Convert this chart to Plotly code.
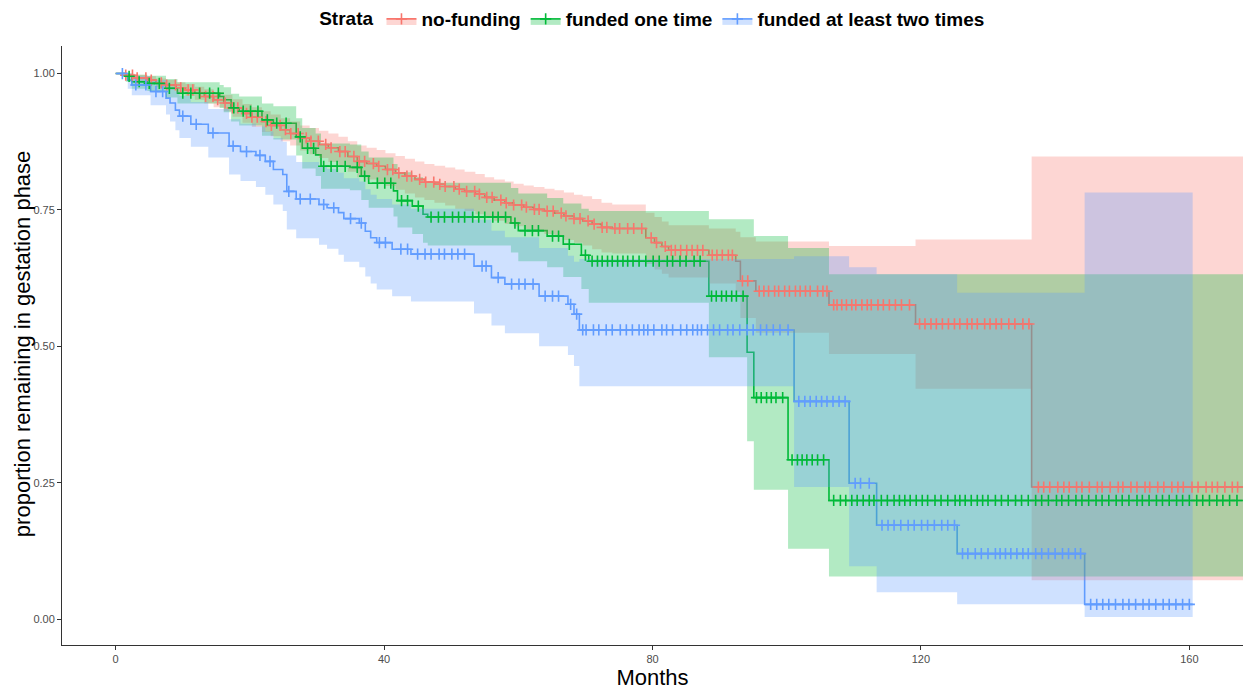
import numpy as np
import plotly.graph_objects as go

# ---------------- data ----------------
strata = ["no-funding", "funded one time", "funded at least two times"]
colors = ["#F8766D", "#00BA38", "#619CFF"]
fills = ["rgba(248,118,109,0.3)", "rgba(0,186,56,0.3)", "rgba(97,156,255,0.3)"]

# no-funding
red_t = [0, 1.5, 2.8, 4.7, 6.0, 7.5, 9.0, 10.4, 11.8, 13.2, 14.6, 16.1, 17.4, 18.9, 20.3, 21.8,
         23.1, 24.6, 26.0, 27.5, 28.9, 30.3, 31.7, 33.2, 34.6, 36.0, 37.4, 38.9, 40.2, 41.7, 43.1,
         44.6, 46.0, 47.5, 49.1, 50.6, 52.0, 53.6, 55.0, 56.4, 58.0, 59.3, 60.8, 62.3, 63.9, 65.4,
         66.8, 68.3, 69.6, 71.0, 72.4, 74.0, 79.0, 80.3, 81.4, 82.4, 88.4, 92.4, 93.1, 95.4, 106.3,
         119.2, 136.5]
red_s = [1.000, 0.997, 0.992, 0.988, 0.983, 0.979, 0.974, 0.970, 0.964, 0.958, 0.952, 0.946, 0.937,
         0.927, 0.920, 0.912, 0.905, 0.897, 0.890, 0.882, 0.876, 0.870, 0.864, 0.857, 0.848, 0.839,
         0.835, 0.830, 0.824, 0.818, 0.812, 0.806, 0.801, 0.797, 0.793, 0.788, 0.784, 0.779, 0.773,
         0.768, 0.763, 0.759, 0.755, 0.751, 0.748, 0.744, 0.739, 0.734, 0.730, 0.724, 0.718, 0.716,
         0.699, 0.690, 0.683, 0.676, 0.667, 0.656, 0.620, 0.601, 0.576, 0.541, 0.242]
red_lo = [1.000, 0.993, 0.986, 0.981, 0.975, 0.970, 0.964, 0.959, 0.952, 0.945, 0.938, 0.931, 0.921,
          0.910, 0.902, 0.893, 0.885, 0.876, 0.868, 0.859, 0.852, 0.845, 0.838, 0.830, 0.820, 0.810,
          0.806, 0.800, 0.794, 0.787, 0.780, 0.773, 0.768, 0.763, 0.758, 0.752, 0.748, 0.742, 0.736,
          0.730, 0.724, 0.720, 0.715, 0.710, 0.706, 0.701, 0.695, 0.690, 0.685, 0.678, 0.672, 0.670,
          0.651, 0.641, 0.633, 0.626, 0.615, 0.600, 0.552, 0.525, 0.486, 0.422, 0.071]
red_up = [1.000, 1.000, 0.998, 0.995, 0.991, 0.988, 0.984, 0.981, 0.976, 0.971, 0.966, 0.961, 0.953,
          0.944, 0.938, 0.931, 0.925, 0.918, 0.912, 0.905, 0.900, 0.895, 0.890, 0.884, 0.876, 0.868,
          0.864, 0.860, 0.854, 0.849, 0.844, 0.839, 0.834, 0.831, 0.828, 0.824, 0.820, 0.816, 0.810,
          0.806, 0.802, 0.798, 0.795, 0.792, 0.789, 0.786, 0.782, 0.778, 0.775, 0.770, 0.763, 0.760,
          0.745, 0.737, 0.729, 0.722, 0.716, 0.710, 0.700, 0.692, 0.684, 0.696, 0.848]
red_end = 172
red_cens = [1.5, 2.5, 3.2, 4.5, 5.3, 6.8, 7.6, 8.9, 9.7, 10.8, 11.5, 12.6, 13.4, 14.5, 15.2, 16.3,
            17.4, 18.2, 19.5, 20.3, 21.1, 22.4, 23.2, 24.5, 25.3, 26.1, 27.2, 28.4, 29.1, 30.2, 31.3,
            32.1, 33.4, 34.2, 35.5, 36.3, 37.1, 38.4, 39.2, 40.5, 41.3, 42.2, 43.4, 44.1, 45.3, 46.2,
            47.4, 48.3, 49.1, 50.4, 51.2, 52.3, 53.5, 54.2, 55.3, 56.1, 57.4, 58.2, 59.3, 60.5, 61.2,
            62.4, 63.1, 64.3, 65.2, 66.4, 67.1, 68.3, 69.2, 70.4, 71.3, 72.5, 73.2, 74.4, 75.1, 76.3,
            77.2, 78.4, 79.8, 80.6, 81.9, 82.8, 83.4, 84.2, 85.1, 85.9, 86.7, 87.5, 88.9, 89.6, 90.4,
            91.3, 91.9, 93.4, 94.2, 95.9, 96.6, 97.3, 98.2, 98.8, 99.7, 100.4, 101.3, 102.0, 102.8,
            103.5, 104.6, 105.4, 106.0, 107.0, 107.5, 108.2, 108.9, 109.7, 110.3, 111.2, 112.0, 112.6,
            113.6, 114.4, 115.3, 116.2, 117.1, 118.3, 119.8, 120.6, 121.5, 122.3, 123.2, 124.1, 125.0,
            125.8, 126.9, 127.6, 128.4, 129.5, 130.3, 131.2, 132.0, 133.1, 134.0, 135.2, 136.1, 137.5,
            138.3, 139.2, 140.4, 141.3, 142.1, 143.2, 144.0, 145.1, 146.3, 147.0, 148.2, 149.4, 150.1,
            151.3, 152.2, 153.4, 154.1, 155.3, 156.2, 157.4, 158.3, 159.1, 160.4, 161.3, 162.5, 163.4,
            164.2, 165.3, 166.4, 167.2]

# funded one time
green_t = [0, 1.5, 2.4, 4.7, 7.5, 9.2, 15.5, 16.1, 17.2, 18.4, 21.8, 23.5, 26.9, 27.8, 29.8, 30.6,
           34.9, 36.6, 37.7, 41.4, 42.0, 44.2, 45.8, 46.5, 58.9, 60.0, 64.3, 66.7, 69.4, 70.5, 88.4,
           94.1, 95.1, 100.2, 106.3]
green_s = [1.000, 0.995, 0.985, 0.982, 0.973, 0.964, 0.958, 0.952, 0.937, 0.931, 0.915, 0.909, 0.884,
           0.863, 0.851, 0.830, 0.828, 0.812, 0.799, 0.785, 0.767, 0.757, 0.742, 0.737, 0.726, 0.712,
           0.702, 0.687, 0.667, 0.656, 0.592, 0.489, 0.406, 0.292, 0.2175]
green_lo = [1.000, 0.985, 0.972, 0.968, 0.956, 0.945, 0.937, 0.929, 0.912, 0.905, 0.886, 0.879, 0.850,
            0.826, 0.812, 0.789, 0.786, 0.768, 0.754, 0.738, 0.718, 0.706, 0.690, 0.685, 0.672, 0.656,
            0.645, 0.627, 0.605, 0.580, 0.480, 0.326, 0.237, 0.129, 0.078]
green_up = [1.000, 1.000, 0.998, 0.996, 0.990, 0.984, 0.979, 0.975, 0.963, 0.958, 0.945, 0.940, 0.918,
            0.900, 0.890, 0.872, 0.870, 0.857, 0.846, 0.834, 0.819, 0.810, 0.800, 0.800, 0.790, 0.780,
            0.772, 0.762, 0.752, 0.748, 0.733, 0.733, 0.702, 0.680, 0.632]
green_end = 172
green_cens = [2.0, 3.5, 5.0, 6.5, 8.0, 10.0, 11.2, 12.5, 14.0, 15.3, 17.6, 19.0, 20.1, 21.2, 22.6,
              24.0, 25.4, 27.5, 28.6, 29.5, 31.0, 32.1, 33.0, 34.2, 36.0, 37.1, 39.0, 40.1, 41.0,
              42.6, 43.5, 45.1, 47.0, 48.1, 49.0, 50.2, 51.1, 52.0, 53.2, 54.1, 55.0, 56.2, 57.0,
              58.1, 59.5, 61.0, 62.1, 63.0, 65.1, 66.0, 67.6, 70.0, 71.0, 71.8, 72.5, 73.3, 74.0,
              74.8, 75.6, 76.3, 77.1, 78.0, 79.0, 80.1, 81.0, 82.2, 83.0, 84.1, 85.0, 86.2, 87.1,
              88.8, 89.5, 90.3, 91.0, 91.8, 92.5, 93.5, 95.5, 96.2, 97.0, 97.7, 98.4, 99.4, 100.8,
              101.6, 102.3, 103.0, 103.8, 104.6, 105.5, 107.0, 108.0, 108.8, 109.7, 110.5, 111.4,
              112.3, 113.0, 114.1, 115.0, 116.0, 116.8, 117.6, 118.4, 119.3, 120.2, 121.0, 122.1,
              123.0, 124.0, 125.1, 125.8, 126.6, 127.5, 128.4, 129.2, 130.0, 131.1, 132.0, 133.0,
              134.1, 135.0, 136.0, 137.1, 138.0, 139.0, 140.2, 141.0, 142.0, 143.1, 144.0, 145.0,
              146.1, 147.0, 148.0, 149.1, 150.0, 151.0, 152.2, 153.0, 154.0, 155.1, 156.0, 157.0,
              158.1, 159.0, 160.0, 161.1, 162.0, 163.0, 164.1, 165.0, 166.0, 167.1]

# funded at least two times
blue_t = [0, 1.8, 2.4, 5.2, 7.5, 8.1, 8.9, 9.5, 11.2, 13.8, 16.9, 18.6, 20.9, 22.3, 23.5, 24.9,
          25.5, 26.9, 30.3, 31.5, 33.2, 34.0, 36.3, 37.2, 38.0, 38.9, 41.2, 44.0, 53.4, 56.0, 58.0,
          63.1, 67.4, 68.3, 69.1, 101.1, 109.3, 113.4, 125.4, 144.4]
blue_s = [1.000, 0.988, 0.979, 0.967, 0.955, 0.946, 0.933, 0.922, 0.907, 0.891, 0.867, 0.857, 0.850,
          0.839, 0.824, 0.815, 0.784, 0.770, 0.760, 0.754, 0.745, 0.734, 0.726, 0.711, 0.699, 0.690,
          0.678, 0.669, 0.647, 0.626, 0.614, 0.592, 0.577, 0.559, 0.530, 0.399, 0.249, 0.172, 0.120,
          0.027]
blue_lo = [1.000, 0.972, 0.960, 0.942, 0.925, 0.912, 0.896, 0.882, 0.866, 0.846, 0.815, 0.803, 0.792,
           0.778, 0.760, 0.748, 0.714, 0.698, 0.686, 0.679, 0.668, 0.655, 0.645, 0.628, 0.615, 0.604,
           0.592, 0.582, 0.560, 0.538, 0.524, 0.500, 0.484, 0.464, 0.427, 0.242, 0.097, 0.049, 0.027,
           0.004]
blue_up = [1.000, 1.000, 0.995, 0.988, 0.982, 0.976, 0.967, 0.959, 0.948, 0.935, 0.916, 0.908, 0.903,
           0.894, 0.882, 0.875, 0.850, 0.838, 0.830, 0.825, 0.818, 0.808, 0.802, 0.788, 0.778, 0.770,
           0.760, 0.752, 0.732, 0.712, 0.700, 0.680, 0.666, 0.655, 0.660, 0.665, 0.645, 0.632, 0.598,
           0.782]
blue_end = 160.5
blue_cens = [1.0, 3.0, 4.5, 6.0, 7.0, 10.0, 12.0, 14.5, 17.5, 19.5, 21.5, 23.0, 25.8, 27.5, 29.0,
             31.0, 32.5, 35.0, 36.6, 39.3, 40.2, 42.5, 43.5, 45.0, 46.1, 47.0, 48.2, 49.0, 50.1,
             51.0, 52.0, 54.6, 55.2, 57.0, 59.0, 60.1, 61.0, 62.2, 64.0, 65.1, 66.0, 67.8, 68.7,
             69.6, 70.1, 71.2, 72.0, 73.1, 74.0, 75.2, 76.1, 77.0, 78.0, 78.7, 79.3, 80.2, 81.4,
             82.1, 83.0, 84.2, 85.1, 86.0, 86.7, 87.3, 88.2, 89.1, 90.0, 91.2, 92.0, 93.0, 94.1,
             95.0, 96.1, 97.0, 98.0, 99.0, 100.2, 101.8, 102.7, 103.5, 104.4, 105.2, 106.0, 106.9,
             107.8, 108.7, 110.2, 111.0, 112.3, 114.2, 115.1, 116.0, 117.0, 118.1, 119.0, 120.1,
             121.0, 122.0, 123.1, 124.0, 125.0, 126.2, 127.0, 128.1, 129.0, 130.0, 131.1, 131.8,
             132.6, 133.4, 134.3, 135.2, 136.0, 137.1, 138.0, 139.0, 140.0, 141.1, 142.0, 143.0,
             143.8, 145.3, 146.2, 147.1, 148.0, 149.0, 150.1, 151.0, 152.0, 153.1, 154.0, 155.0,
             156.1, 157.0, 158.0, 159.0, 160.0]

groups = [
    (red_t, red_s, red_lo, red_up, red_end, red_cens),
    (green_t, green_s, green_lo, green_up, green_end, green_cens),
    (blue_t, blue_s, blue_lo, blue_up, blue_end, blue_cens),
]

xticks = [0, 40, 80, 120, 160]
yticks = [0.0, 0.25, 0.50, 0.75, 1.00]
ytick_labels = ["0.00", "0.25", "0.50", "0.75", "1.00"]

FONT = "Liberation Sans, Arial, sans-serif"

fig = go.Figure()

# step lines (drawn first; ribbons sit on top like in the original)
for i, (t, s, lo, up, end, cens) in enumerate(groups):
    fig.add_trace(go.Scatter(x=list(t) + [end], y=list(s) + [s[-1]], mode="lines",
                             line=dict(color=colors[i], width=1.6, shape="hv"),
                             showlegend=False, hoverinfo="skip"))

# confidence ribbons
for i, (t, s, lo, up, end, cens) in enumerate(groups):
    fig.add_trace(go.Scatter(x=list(t) + [end], y=list(up) + [up[-1]], mode="lines",
                             line=dict(width=0, shape="hv"), showlegend=False, hoverinfo="skip"))
    fig.add_trace(go.Scatter(x=list(t) + [end], y=list(lo) + [lo[-1]], mode="lines",
                             line=dict(width=0, shape="hv"), fill="tonexty",
                             fillcolor=fills[i], showlegend=False, hoverinfo="skip"))

# censor marks
for i, (t, s, lo, up, end, cens) in enumerate(groups):
    tt = np.array(t)
    ss = np.array(s)
    idx = np.searchsorted(tt, np.array(cens), side="right") - 1
    fig.add_trace(go.Scatter(x=cens, y=ss[idx], mode="markers",
                             marker=dict(symbol="cross-thin", size=8, color=colors[i],
                                         line=dict(color=colors[i], width=1.6)),
                             showlegend=False, hoverinfo="skip"))

# legend entries
for i, name in enumerate(strata):
    fig.add_trace(go.Scatter(x=[None], y=[None], mode="lines+markers", name="<b>" + name + "</b>",
                             fill="toself", fillcolor=fills[i],
                             line=dict(color=colors[i], width=1.6),
                             marker=dict(symbol="cross-thin", size=8, color=colors[i],
                                         line=dict(color=colors[i], width=1.6))))

fig.update_layout(
    width=1243, height=691,
    paper_bgcolor="white", plot_bgcolor="white",
    margin=dict(l=62, r=0, t=44, b=46),
    font=dict(family=FONT, color="black"),
    legend=dict(orientation="h", x=0.501, xanchor="center", y=1.045, yanchor="middle",
                traceorder="normal",
                title=dict(text="<b>Strata</b>", font=dict(size=19, family=FONT)),
                font=dict(size=19, family=FONT), itemwidth=30, tracegroupgap=0,
                bgcolor="rgba(0,0,0,0)"),
    showlegend=True,
    annotations=[dict(text="proportion remaining in gestation phase", textangle=-90,
                      xref="paper", yref="paper", x=-0.0335, y=0.503,
                      xanchor="center", yanchor="middle", showarrow=False,
                      font=dict(size=22, family=FONT, color="black"))],
)
fig.update_xaxes(range=[-8, 168], tickvals=xticks, ticks="outside", ticklen=4,
                 tickcolor="#333333", showline=True, linecolor="#333333", linewidth=1,
                 showgrid=False, zeroline=False, automargin=False,
                 tickfont=dict(size=11, color="#4D4D4D", family=FONT),
                 title=dict(text="Months", font=dict(size=22, family=FONT), standoff=4))
fig.update_yaxes(range=[-0.0475, 1.0505], tickvals=yticks, ticktext=ytick_labels,
                 ticks="outside", ticklen=4, tickcolor="#333333", showline=True,
                 linecolor="#333333", linewidth=1, showgrid=False, zeroline=False,
                 automargin=False,
                 tickfont=dict(size=11, color="#4D4D4D", family=FONT))

fig.write_html("out.html", config={"displayModeBar": False},
               post_script="document.body.style.margin='0';document.body.style.overflow='hidden';")
